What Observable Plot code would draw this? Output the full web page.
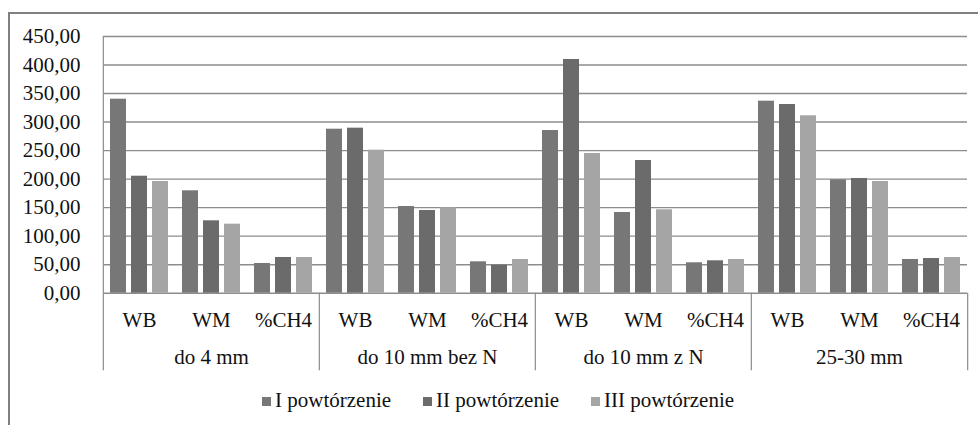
<!DOCTYPE html>
<html>
<head>
<meta charset="utf-8">
<script src="https://cdn.jsdelivr.net/npm/d3@7"></script>
<script src="https://cdn.jsdelivr.net/npm/@observablehq/plot@0.6"></script>
<style>
  html, body { margin: 0; padding: 0; background: #fff; }
  #wrap { position: relative; width: 978px; height: 425px; overflow: hidden; font-family: 'Liberation Serif', 'Tinos', 'Times New Roman', 'DejaVu Serif', serif; }
  #frame { position: absolute; left: 8px; top: 12px; width: 1100px; height: 600px; border: 2px solid #808080; box-sizing: border-box; }
  #chart { position: absolute; left: 0; top: 0; }
  #legend { position: absolute; left: 262px; top: 388px; display: flex; gap: 32px; font-size: 21px; color: #111; white-space: nowrap; }
  #legend .item { display: flex; align-items: center; }
  #legend .sw { width: 9px; height: 9px; margin-right: 4px; margin-top: 1px; }
  #chart svg text { font-family: 'Liberation Serif', 'Tinos', 'Times New Roman', 'DejaVu Serif', serif; }
</style>
</head>
<body>
<div id="wrap">
  <div id="frame"></div>
  <div id="chart"></div>
  <div id="legend"></div>
</div>
<script>
// ---- data ----
const groups = ["do 4 mm", "do 10 mm bez N", "do 10 mm z N", "25-30 mm"];
const subs = ["WB", "WM", "%CH4"];
const series = ["I powtórzenie", "II powtórzenie", "III powtórzenie"];
const colors = ["#777777", "#6b6b6b", "#a5a5a5"];
// values in order: group x sub
const seriesI   = [340.1, 179.5, 52.1, 287.5, 152.0, 55.0, 285.2, 141.5, 53.3, 336.6, 198.8, 59.1];
const seriesII  = [205.1, 126.9, 62.6, 289.3, 145.0, 49.1, 409.7, 232.6, 56.8, 330.8, 201.1, 60.8];
const seriesIII = [195.8, 121.0, 62.6, 250.7, 149.7, 59.1, 244.9, 146.2, 59.1, 311.0, 195.8, 62.6];
const yTicks = [0, 50, 100, 150, 200, 250, 300, 350, 400, 450];

// ---- table ----
const allValues = [seriesI, seriesII, seriesIII];
const keys = [];
groups.forEach(g => subs.forEach(s => keys.push(g + "|" + s)));
const rows = [];
allValues.forEach((vals, si) => {
  vals.forEach((v, i) => rows.push({key: keys[i], series: series[si], value: v}));
});

// ---- layout ----
const W = 978, H = 385, mL = 101, mR = 9, mT = 36, mB = 92.3;
const facetW = (W - mL - mR) / keys.length;
const plotH = H - mT - mB;
const below = 77.6;
const lineColor = "#8c8c8c";
const serif = "'Liberation Serif', 'Tinos', 'Times New Roman', 'DejaVu Serif', serif";

const chart = Plot.plot({
  width: W,
  height: H,
  marginLeft: mL,
  marginRight: mR,
  marginTop: mT,
  marginBottom: mB,
  style: {fontFamily: serif, fontSize: "21px", color: "#111", background: "transparent"},
  fx: {domain: keys, padding: 0, tickSize: 0, tickPadding: 19, tickFormat: k => k.split("|")[1], label: null, axis: "bottom"},
  x: {domain: series, paddingInner: 0.245, paddingOuter: 0.33, axis: null},
  y: {domain: [0, 450], ticks: yTicks, tickSize: 0, tickPadding: 23, tickFormat: d => d.toFixed(2).replace(".", ","), label: null},
  color: {domain: series, range: colors},
  marks: [
    Plot.ruleY(yTicks, {stroke: lineColor, strokeWidth: 1.4}),
    Plot.barY(rows, {fx: "key", x: "series", y: "value", fill: "series"}),
    // y axis line extending down through the category labels
    Plot.ruleX([groups[0]], {x: null, fx: g => g + "|WB", dx: -facetW / 2, insetBottom: -below, stroke: lineColor, strokeWidth: 1.2}),
    // group separators below the axis
    Plot.ruleX(groups.slice(1), {x: null, fx: g => g + "|WB", dx: -facetW / 2, insetTop: plotH, insetBottom: -below, stroke: lineColor, strokeWidth: 1.2}),
    Plot.ruleX([groups[groups.length - 1]], {x: null, fx: g => g + "|%CH4", dx: facetW / 2, insetTop: plotH, insetBottom: -below, stroke: lineColor, strokeWidth: 1.2}),
    // group labels
    Plot.text(groups, {fx: g => g + "|WM", text: d => d, frameAnchor: "bottom", dy: 70.5, fontSize: 21, fill: "#111"})
  ]
});
document.getElementById("chart").appendChild(chart);

// ---- legend ----
const legend = document.getElementById("legend");
series.forEach((s, i) => {
  const item = document.createElement("div");
  item.className = "item";
  const sw = document.createElement("span");
  sw.className = "sw";
  sw.style.background = colors[i];
  const t = document.createElement("span");
  t.textContent = s;
  item.appendChild(sw);
  item.appendChild(t);
  legend.appendChild(item);
});
</script>
</body>
</html>
